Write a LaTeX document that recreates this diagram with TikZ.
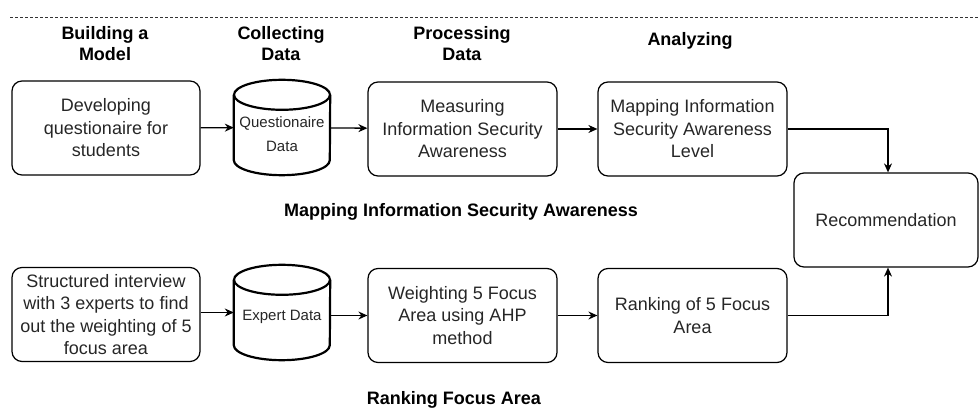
\documentclass[tikz,border=0pt]{standalone}
\usepackage{fontspec}
\setmainfont{Liberation Sans}
\usetikzlibrary{arrows.meta,positioning}

\begin{document}
\begin{tikzpicture}[x=1pt,y=-1pt,
    box/.style={draw, rounded corners=10pt, line width=1.2pt, minimum width=189pt, minimum height=94pt,
      align=center, inner sep=2pt, text=black!85, font=\fontsize{18}{22.5}\selectfont},
    dbnode/.style={minimum width=96pt, minimum height=95pt, inner sep=0pt},
    dbline/.style={line width=2.2pt},
    dbtext/.style={inner sep=0pt, text=black!85, font=\fontsize{15}{23}\selectfont},
    head/.style={align=center, font=\fontsize{18}{21}\selectfont\bfseries},
    arr/.style={-{Stealth[length=9pt,width=8pt]}, line width=1.3pt}]
  \useasboundingbox (0,0) rectangle (980,419);
  % phase line and headers
  \draw[dash pattern=on 3pt off 2pt, line width=0.8pt, black!80] (10,17) -- (980,17);
  \node[head] (hmodel) at (105,43.5) {Building a\\Model};
  \node[head] (hcollect) at (281,43.5) {Collecting\\Data};
  \node[head] (hprocess) at (462,43.5) {Processing\\Data};
  \node[head] (hanalyze) at (690,41) {Analyzing};

  % mapping information security awareness
  \node[box, minimum width=188pt] (devq) at (106,128) {Developing\\questionaire for\\students};
  \node[dbnode] (qdata) at (282,127.5) {};
  \draw[dbline] ([yshift=-15pt]qdata.north west) -- ([yshift=15pt]qdata.south west)
    arc[start angle=180, end angle=360, x radius=48pt, y radius=15pt] -- ([yshift=-15pt]qdata.north east);
  \draw[dbline] ([yshift=-15pt]qdata.north) ellipse[x radius=48pt, y radius=15pt];
  \node[dbtext] (qdatatxt) at (282,123) {Questionaire};
  \node[dbtext] (qdatatxt2) at (282,146) {Data};
  \node[box] (measisa) at (462.5,129) {Measuring\\Information Security\\Awareness};
  \node[box] (mapisa) at (692.5,129) {Mapping Information\\Security Awareness\\Level};
  \node[head] (gmap) at (461,212) {Mapping Information Security Awareness};

  % ranking focus area
  \node[box, minimum width=188pt, inner sep=1pt] (interview) at (106,314.5) {Structured interview\\with 3 experts to find\\out the weighting of 5\\focus area};
  \node[dbnode] (edata) at (282,312.5) {};
  \draw[dbline] ([yshift=-15pt]edata.north west) -- ([yshift=15pt]edata.south west)
    arc[start angle=180, end angle=360, x radius=48pt, y radius=15pt] -- ([yshift=-15pt]edata.north east);
  \draw[dbline] ([yshift=-15pt]edata.north) ellipse[x radius=48pt, y radius=15pt];
  \node[dbtext] (edatatxt) at (282,317) {Expert Data};
  \node[box] (weightfa) at (462.5,315.5) {Weighting 5 Focus\\Area using AHP\\method};
  \node[box] (rankfa) at (692.5,315.5) {Ranking of 5 Focus\\Area};
  \node[head] (grank) at (454,400) {Ranking Focus Area};

  \node[box, minimum width=184pt] (recom) at (886,220) {Recommendation};

  % connectors
  \draw[arr] (devq) -- (qdata);
  \draw[arr] (qdata) -- (measisa);
  \draw[arr] (measisa) -- (mapisa);
  \draw[arr] (mapisa.east) -| ([xshift=2pt]recom.north);
  \draw[arr] (interview.east |- edata) -- (edata);
  \draw[arr] (edata.east |- weightfa) -- (weightfa);
  \draw[arr] (weightfa) -- (rankfa);
  \draw[arr] (rankfa.east) -| ([xshift=2pt]recom.south);
\end{tikzpicture}
\end{document}
